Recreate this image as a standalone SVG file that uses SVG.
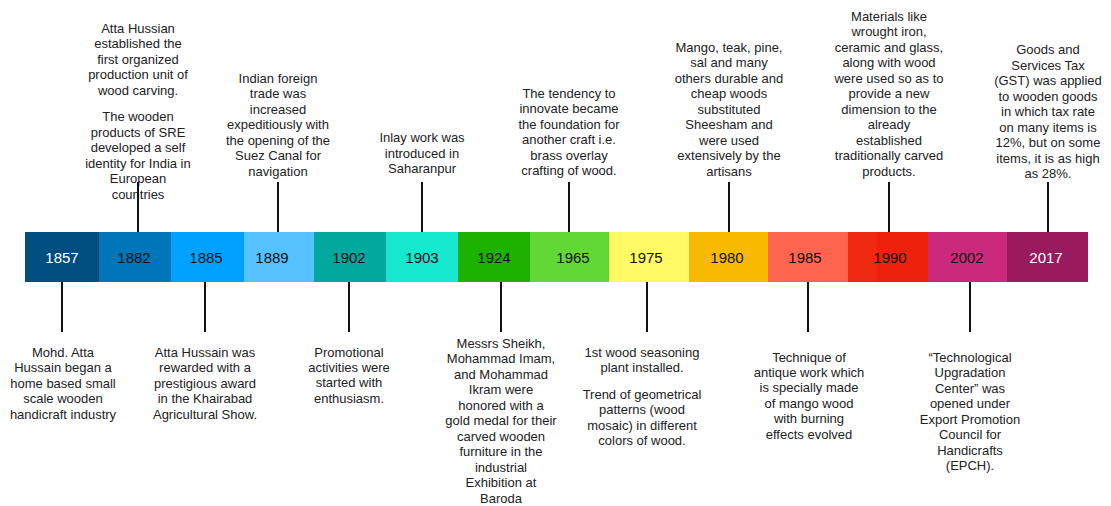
<svg xmlns="http://www.w3.org/2000/svg" width="1111" height="506" viewBox="0 0 1111 506">
  <style>
    .yr { font-family: "Liberation Sans", Arial, sans-serif; font-size: 15px; text-anchor: middle; fill: #111; }
    .yr.light { fill: #fff; }
    .note { font-family: "Liberation Sans", Arial, sans-serif; font-size: 13px; text-anchor: middle; fill: #222; }
    .tick { stroke: #111; stroke-width: 2; }
  </style>
  <rect width="1111" height="506" fill="#fff"/>

  <!-- timeline segments, one node per year -->
  <g id="n1857">
    <rect x="25" y="232" width="74" height="50" fill="#004D80"/>
    <text class="yr light" x="62" y="262.5">1857</text>
    <text class="note" x="63" y="356.5"><tspan x="63">Mohd. Atta</tspan><tspan x="63" dy="15.6">Hussain began a</tspan><tspan x="63" dy="15.6">home based small</tspan><tspan x="63" dy="15.6">scale wooden</tspan><tspan x="63" dy="15.6">handicraft industry</tspan></text>
  </g>
  <g id="n1882">
    <rect x="99" y="232" width="72" height="50" fill="#0076BA"/>
    <text class="yr" x="134" y="262.5">1882</text>
    <text class="note" x="138" y="32.5"><tspan x="138">Atta Hussian</tspan><tspan x="138" dy="15.5">established the</tspan><tspan x="138" dy="15.5">first organized</tspan><tspan x="138" dy="15.5">production unit of</tspan><tspan x="138" dy="15.5">wood carving.</tspan><tspan x="138" dy="26.5">The wooden</tspan><tspan x="138" dy="15.5">products of SRE</tspan><tspan x="138" dy="15.5">developed a self</tspan><tspan x="138" dy="15.5">identity for India in</tspan><tspan x="138" dy="15.5">European</tspan><tspan x="138" dy="15.5">countries</tspan></text>
  </g>
  <g id="n1885">
    <rect x="171" y="232" width="73" height="50" fill="#00A2FF"/>
    <text class="yr" x="206" y="262.5">1885</text>
    <text class="note" x="205" y="356.5"><tspan x="205">Atta Hussain was</tspan><tspan x="205" dy="15.6">rewarded with a</tspan><tspan x="205" dy="15.6">prestigious award</tspan><tspan x="205" dy="15.6">in the Khairabad</tspan><tspan x="205" dy="15.6">Agricultural Show.</tspan></text>
  </g>
  <g id="n1889">
    <rect x="244" y="232" width="70" height="50" fill="#56C1FF"/>
    <text class="yr" x="272" y="262.5">1889</text>
    <text class="note" x="278" y="82.5"><tspan x="278">Indian foreign</tspan><tspan x="278" dy="15.5">trade was</tspan><tspan x="278" dy="15.5">increased</tspan><tspan x="278" dy="15.5">expeditiously with</tspan><tspan x="278" dy="15.5">the opening of the</tspan><tspan x="278" dy="15.5">Suez Canal for</tspan><tspan x="278" dy="15.5">navigation</tspan></text>
  </g>
  <g id="n1902">
    <rect x="314" y="232" width="72" height="50" fill="#00A89D"/>
    <text class="yr" x="349" y="262.5">1902</text>
    <text class="note" x="349" y="356.5"><tspan x="349">Promotional</tspan><tspan x="349" dy="15.4">activities were</tspan><tspan x="349" dy="15.4">started with</tspan><tspan x="349" dy="15.4">enthusiasm.</tspan></text>
  </g>
  <g id="n1903">
    <rect x="386" y="232" width="72" height="50" fill="#16E7CF"/>
    <text class="yr" x="422" y="262.5">1903</text>
    <text class="note" x="422" y="142"><tspan x="422">Inlay work was</tspan><tspan x="422" dy="15.5">introduced in</tspan><tspan x="422" dy="15.5">Saharanpur</tspan></text>
  </g>
  <g id="n1924">
    <rect x="458" y="232" width="72" height="50" fill="#1DB100"/>
    <text class="yr" x="494" y="262.5">1924</text>
    <text class="note" x="501" y="347.5"><tspan x="501">Messrs Sheikh,</tspan><tspan x="501" dy="15.5">Mohammad Imam,</tspan><tspan x="501" dy="15.5">and Mohammad</tspan><tspan x="501" dy="15.5">Ikram were</tspan><tspan x="501" dy="15.5">honored with a</tspan><tspan x="501" dy="15.5">gold medal for their</tspan><tspan x="501" dy="15.5">carved wooden</tspan><tspan x="501" dy="15.5">furniture  in the</tspan><tspan x="501" dy="15.5">industrial</tspan><tspan x="501" dy="15.5">Exhibition at</tspan><tspan x="501" dy="15.5">Baroda</tspan></text>
  </g>
  <g id="n1965">
    <rect x="530" y="232" width="79" height="50" fill="#61D836"/>
    <text class="yr" x="573" y="262.5">1965</text>
    <text class="note" x="569" y="97.5"><tspan x="569">The tendency to</tspan><tspan x="569" dy="15.5">innovate became</tspan><tspan x="569" dy="15.5">the foundation for</tspan><tspan x="569" dy="15.5">another craft i.e.</tspan><tspan x="569" dy="15.5">brass overlay</tspan><tspan x="569" dy="15.5">crafting of wood.</tspan></text>
  </g>
  <g id="n1975">
    <rect x="609" y="232" width="80" height="50" fill="#FFFA66"/>
    <text class="yr" x="646" y="262.5">1975</text>
    <text class="note" x="642" y="356.5"><tspan x="642">1st wood seasoning</tspan><tspan x="642" dy="15.5">plant installed.</tspan><tspan x="642" dy="26.5">Trend of geometrical</tspan><tspan x="642" dy="15.5">patterns (wood</tspan><tspan x="642" dy="15.5">mosaic) in different</tspan><tspan x="642" dy="15.5">colors of wood.</tspan></text>
  </g>
  <g id="n1980">
    <rect x="689" y="232" width="79" height="50" fill="#F8BA00"/>
    <text class="yr" x="727" y="262.5">1980</text>
    <text class="note" x="729" y="51.5"><tspan x="729">Mango, teak, pine,</tspan><tspan x="729" dy="15.5">sal and many</tspan><tspan x="729" dy="15.5">others durable and</tspan><tspan x="729" dy="15.5">cheap woods</tspan><tspan x="729" dy="15.5">substituted</tspan><tspan x="729" dy="15.5">Sheesham and</tspan><tspan x="729" dy="15.5">were used</tspan><tspan x="729" dy="15.5">extensively by the</tspan><tspan x="729" dy="15.5">artisans</tspan></text>
  </g>
  <g id="n1985">
    <rect x="768" y="232" width="80" height="50" fill="#FF644E"/>
    <text class="yr" x="805" y="262.5">1985</text>
    <text class="note" x="809" y="361.5"><tspan x="809">Technique of</tspan><tspan x="809" dy="15.4">antique work which</tspan><tspan x="809" dy="15.4">is specially made</tspan><tspan x="809" dy="15.4">of mango wood</tspan><tspan x="809" dy="15.4">with burning</tspan><tspan x="809" dy="15.4">effects evolved</tspan></text>
  </g>
  <g id="n1990">
    <rect x="848" y="232" width="80" height="50" fill="#EE220C"/>
    <rect x="848" y="232" width="29" height="50" fill="#F02A12"/>
    <text class="yr" x="890" y="262.5">1990</text>
    <text class="note" x="889" y="20.5"><tspan x="889">Materials like</tspan><tspan x="889" dy="15.5">wrought iron,</tspan><tspan x="889" dy="15.5">ceramic and glass,</tspan><tspan x="889" dy="15.5">along with wood</tspan><tspan x="889" dy="15.5">were used so as to</tspan><tspan x="889" dy="15.5">provide a new</tspan><tspan x="889" dy="15.5">dimension to the</tspan><tspan x="889" dy="15.5">already</tspan><tspan x="889" dy="15.5">established</tspan><tspan x="889" dy="15.5">traditionally carved</tspan><tspan x="889" dy="15.5">products.</tspan></text>
  </g>
  <g id="n2002">
    <rect x="928" y="232" width="79" height="50" fill="#CB297B"/>
    <text class="yr" x="967" y="262.5">2002</text>
    <text class="note" x="970" y="361.5"><tspan x="970">“Technological</tspan><tspan x="970" dy="15.5">Upgradation</tspan><tspan x="970" dy="15.5">Center” was</tspan><tspan x="970" dy="15.5">opened under</tspan><tspan x="970" dy="15.5">Export Promotion</tspan><tspan x="970" dy="15.5">Council for</tspan><tspan x="970" dy="15.5">Handicrafts</tspan><tspan x="970" dy="15.5">(EPCH).</tspan></text>
  </g>
  <g id="n2017">
    <rect x="1007" y="232" width="81" height="50" fill="#991B5E"/>
    <text class="yr light" x="1046" y="262.5">2017</text>
    <text class="note" x="1048" y="54"><tspan x="1048">Goods and</tspan><tspan x="1048" dy="15.5">Services Tax</tspan><tspan x="1048" dy="15.5">(GST) was applied</tspan><tspan x="1048" dy="15.5">to wooden goods</tspan><tspan x="1048" dy="15.5">in which tax rate</tspan><tspan x="1048" dy="15.5">on many items is</tspan><tspan x="1048" dy="15.5">12%, but on some</tspan><tspan x="1048" dy="15.5">items, it is as high</tspan><tspan x="1048" dy="15.5">as 28%.</tspan></text>
  </g>

  <!-- leader lines from the bar to each note -->
  <g id="connectors">
    <line class="tick" x1="138" y1="182" x2="138" y2="232"/>
    <line class="tick" x1="278" y1="182" x2="278" y2="232"/>
    <line class="tick" x1="422" y1="182" x2="422" y2="232"/>
    <line class="tick" x1="569" y1="182" x2="569" y2="232"/>
    <line class="tick" x1="729" y1="182" x2="729" y2="232"/>
    <line class="tick" x1="889" y1="182" x2="889" y2="232"/>
    <line class="tick" x1="1048" y1="182" x2="1048" y2="232"/>
    <line class="tick" x1="62" y1="282" x2="62" y2="332"/>
    <line class="tick" x1="205" y1="282" x2="205" y2="332"/>
    <line class="tick" x1="349" y1="282" x2="349" y2="332"/>
    <line class="tick" x1="501" y1="282" x2="501" y2="332"/>
    <line class="tick" x1="647" y1="282" x2="647" y2="332"/>
    <line class="tick" x1="808" y1="282" x2="808" y2="332"/>
    <line class="tick" x1="970" y1="282" x2="970" y2="332"/>
  </g>
</svg>
